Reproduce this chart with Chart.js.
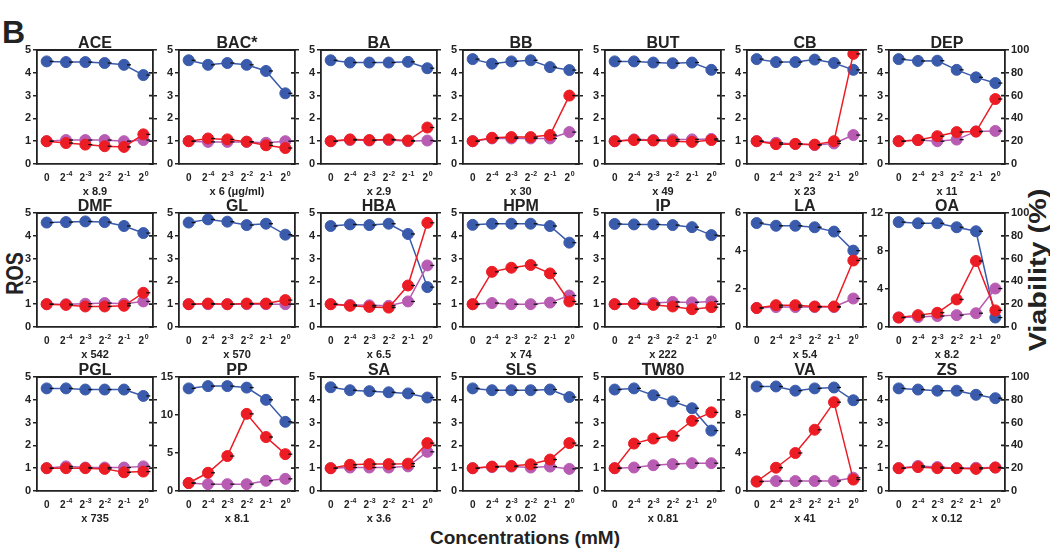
<!DOCTYPE html>
<html>
<head>
<meta charset="utf-8">
<script src="https://cdn.jsdelivr.net/npm/chart.js@4.4.1/dist/chart.umd.min.js"></script>
<style>
    body { margin: 0; background: #fff; }
    #page { position: relative; width: 1050px; height: 550px; overflow: hidden; font-family: "Liberation Sans", Arial, sans-serif; color: #222; }
    .panel { position: absolute; }
    .lbl { position: absolute; font-weight: bold; white-space: nowrap; color: #222; }
</style>
</head>
<body>
<div id="page">
    <div class="lbl" style="left:2px; top:14px; font-size:32px;">B</div>
    <div class="lbl" style="left:-20px; top:260px; font-size:23px; width:70px; text-align:center; transform:rotate(-90deg) scaleX(0.85);">ROS</div>
    <div class="lbl" style="left:968px; top:256px; font-size:24px; width:140px; text-align:center; transform:rotate(-90deg) scaleX(1.2);">Viability (%)</div>
    <div class="lbl" style="left:375px; top:527px; font-size:19px; width:300px; text-align:center;">Concentrations (mM)</div>
</div>
<script>
// x categories (mM, relative)
var labels = ['0', '2⁻⁴', '2⁻³', '2⁻²', '2⁻¹', '2⁰'];

var names = ['ACE', 'BAC*', 'BA', 'BB', 'BUT', 'CB', 'DEP',
    'DMF', 'GL', 'HBA', 'HPM', 'IP', 'LA', 'OA',
    'PGL', 'PP', 'SA', 'SLS', 'TW80', 'VA', 'ZS'];

var factors = ['x 8.9', 'x 6 (μg/ml)', 'x 2.9', 'x 30', 'x 49', 'x 23', 'x 11',
    'x 542', 'x 570', 'x 6.5', 'x 74', 'x 222', 'x 5.4', 'x 8.2',
    'x 735', 'x 8.1', 'x 3.6', 'x 0.02', 'x 0.81', 'x 41', 'x 0.12'];

// left axis (ROS) range per panel
var rosMax = [5, 5, 5, 5, 5, 5, 5,
    5, 5, 5, 5, 5, 6, 12,
    5, 15, 5, 5, 5, 12, 5];
var rosStep = [1, 1, 1, 1, 1, 1, 1,
    1, 1, 1, 1, 1, 2, 4,
    1, 5, 1, 1, 1, 4, 1];

// red series (ROS)
var rosRed = [
    [1, 0.92, 0.85, 0.78, 0.75, 1.3],
    [1, 1.12, 1.08, 0.98, 0.82, 0.7],
    [1, 1.08, 1.05, 1.08, 1.03, 1.6],
    [1, 1.15, 1.18, 1.18, 1.27, 3.0],
    [1, 1.05, 1.03, 1.0, 0.97, 1.05],
    [1, 0.87, 0.88, 0.85, 1.0, 4.83],
    [1, 1.05, 1.22, 1.4, 1.42, 2.85],
    [1, 0.97, 0.9, 0.9, 0.93, 1.5],
    [1, 1.03, 1.0, 1.03, 1.03, 1.18],
    [1, 0.93, 0.88, 0.85, 1.82, 4.57],
    [1, 2.42, 2.6, 2.72, 2.35, 1.12],
    [1, 1.02, 0.97, 0.9, 0.78, 0.87],
    [1, 1.15, 1.15, 1.08, 1.08, 3.5],
    [1, 1.25, 1.5, 2.9, 6.95, 1.75],
    [1, 1.0, 1.0, 0.97, 0.82, 0.85],
    [1.05, 2.4, 4.6, 10.15, 7.1, 4.85],
    [1, 1.15, 1.18, 1.18, 1.2, 2.1],
    [1, 1.07, 1.1, 1.17, 1.38, 2.1],
    [1, 2.08, 2.3, 2.42, 3.08, 3.45],
    [1, 2.45, 4.0, 6.45, 9.35, 1.2],
    [1, 1.05, 1.0, 1.0, 0.97, 1.03]
];

// purple series (ROS)
var rosPurple = [
    [1, 1.05, 1.05, 1.05, 1.0, 1.05],
    [1, 0.97, 0.97, 0.97, 0.93, 1.0],
    [1, 1.05, 1.03, 1.05, 1.0, 1.03],
    [1, 1.12, 1.12, 1.12, 1.12, 1.4],
    [1, 1.08, 1.05, 1.08, 1.08, 1.1],
    [1, 0.93, 0.88, 0.83, 0.9, 1.27],
    [1, 1.05, 1.0, 1.07, 1.43, 1.45],
    [1, 1.0, 1.02, 1.05, 1.02, 1.12],
    [1, 1, 1, 1, 1, 1],
    [1, 0.97, 0.95, 0.93, 1.12, 2.7],
    [1, 1.05, 1.0, 1.0, 1.07, 1.38],
    [1, 1.03, 1.05, 1.1, 1.08, 1.12],
    [1, 1.05, 1.05, 1.05, 1.05, 1.5],
    [1, 1.05, 1.15, 1.25, 1.45, 4.05],
    [1, 1.08, 1.03, 1.03, 1.03, 1.08],
    [1.05, 0.9, 0.9, 0.9, 1.35, 1.6],
    [1, 1.03, 1.03, 1.03, 1.08, 1.72],
    [1, 1.05, 1.07, 1.03, 1.07, 0.97],
    [1, 1.03, 1.13, 1.18, 1.22, 1.22],
    [1, 1.05, 1.05, 1.05, 1.05, 1.4],
    [1, 1.1, 1.05, 1.0, 1.02, 1.03]
];

// blue series (viability %, right axis)
var viability = [
    [90, 89.4, 89.4, 88.6, 87, 78],
    [91, 87, 88.6, 87, 81.6, 62],
    [91, 89, 89, 89, 89.6, 84],
    [92, 88, 90, 91, 85, 82.4],
    [90, 90, 89, 88.4, 89, 82.6],
    [92, 89.4, 89.4, 91.6, 88.6, 82.6],
    [92, 90.4, 90.6, 82.6, 76, 71],
    [91.6, 92, 92.6, 92, 88.6, 82.4],
    [91.6, 94.4, 92.4, 89.4, 90.6, 81],
    [88.6, 90, 89.4, 90.6, 81.6, 35],
    [89.6, 90.6, 90.6, 90.6, 88.6, 74],
    [90.4, 90, 90, 89.4, 87.6, 80.6],
    [91.2, 88.8, 88.8, 87.5, 83.7, 67],
    [92, 91, 91, 87.5, 84, 8.3],
    [90, 90, 89, 89, 89, 83.4],
    [90, 92, 92, 90.7, 80, 60.7],
    [91, 88.4, 87.6, 86.6, 85.6, 82],
    [90, 88.4, 88.4, 88.4, 89, 82.4],
    [89, 90, 84, 78.6, 72.6, 53],
    [91.7, 91.7, 88, 90, 90.8, 79.6],
    [90, 89, 88, 88, 84.4, 81.4]
];

var colLeft = [37, 179, 321, 463, 605, 747, 889];
var rowTop = [50, 213, 377];
var plotW = 116, plotH = 114, xAxisH = 36;

var RED = '#ec1c24', PURPLE = '#b85bb2', BLUE = '#3a5bab', INK = '#222';
var FONT = '"Liberation Sans", Arial, sans-serif';

var supMap = { '⁻': '-', '⁰': '0', '¹': '1', '²': '2', '³': '3', '⁴': '4' };

// top border, inner ticks on right axis, panel title, x labels with exponents
var framePlugin = {
    id: 'frame',
    afterDraw: function (chart) {
        var ctx = chart.ctx, a = chart.chartArea, y1 = chart.scales.y1, xs = chart.scales.x;
        ctx.save();
        ctx.strokeStyle = INK;
        ctx.lineWidth = 1.8;
        ctx.beginPath();
        ctx.moveTo(a.left - 1, a.top);
        ctx.lineTo(a.right + 1, a.top);
        y1.ticks.forEach(function (t) {
            var y = y1.getPixelForValue(t.value);
            ctx.moveTo(a.right - 4, y);
            ctx.lineTo(a.right, y);
        });
        ctx.stroke();

        ctx.fillStyle = INK;
        ctx.font = 'bold 16px ' + FONT;
        ctx.textAlign = 'center';
        ctx.textBaseline = 'alphabetic';
        ctx.fillText(chart.options.plugins.frame.title, (a.left + a.right) / 2, a.top - 2);

        // category labels: base + superscript
        labels.forEach(function (lab, k) {
            var x = xs.getPixelForValue(k);
            var base = lab.charAt(0);
            var exp = lab.slice(1).split('').map(function (ch) { return supMap[ch] || ch; }).join('');
            var yb = a.bottom + 17;
            ctx.font = 'bold 10px ' + FONT;
            var bw = ctx.measureText(base).width;
            ctx.font = 'bold 7px ' + FONT;
            var ew = exp ? ctx.measureText(exp).width : 0;
            var x0 = x - (bw + ew) / 2;
            ctx.textAlign = 'left';
            ctx.font = 'bold 10px ' + FONT;
            ctx.fillText(base, x0, yb);
            if (exp) {
                ctx.font = 'bold 7px ' + FONT;
                ctx.fillText(exp, x0 + bw + 0.5, yb - 5);
            }
        });
        ctx.restore();
    }
};

// little error-bar caps on the right of each point
var capPlugin = {
    id: 'caps',
    afterDatasetsDraw: function (chart) {
        var ctx = chart.ctx;
        ctx.save();
        ctx.strokeStyle = '#111';
        ctx.lineWidth = 1.3;
        chart.data.datasets.forEach(function (ds, di) {
            chart.getDatasetMeta(di).data.forEach(function (p) {
                ctx.beginPath();
                ctx.moveTo(p.x + 3, p.y);
                ctx.lineTo(p.x + 7, p.y);
                ctx.stroke();
            });
        });
        ctx.restore();
    }
};

function makePanel(i) {
    var r = Math.floor(i / 7), c = i % 7;
    var last = c == 6;
    var rightW = last ? 40 : 20;
    var W = 30 + plotW + rightW, H = 30 + plotH + xAxisH;

    var div = document.createElement('div');
    div.className = 'panel';
    div.style.left = (colLeft[c] - 30) + 'px';
    div.style.top = (rowTop[r] - 30) + 'px';
    var cv = document.createElement('canvas');
    cv.width = W;
    cv.height = H;
    div.appendChild(cv);
    document.getElementById('page').appendChild(div);

    var line = function (data, color, axis) {
        return {
            data: data,
            yAxisID: axis,
            borderColor: color,
            backgroundColor: color,
            borderWidth: 1.5,
            pointRadius: 5.5,
            pointBorderWidth: 1,
            pointBorderColor: color,
            tension: 0
        };
    };

    new Chart(cv, {
        type: 'line',
        data: {
            labels: labels,
            datasets: [
                line(rosRed[i], RED, 'y'),
                line(rosPurple[i], PURPLE, 'y'),
                line(viability[i], BLUE, 'y1')
            ]
        },
        options: {
            responsive: false,
            animation: false,
            layout: { padding: { top: 30, left: 0, right: 0, bottom: 0 } },
            plugins: {
                legend: { display: false },
                tooltip: { enabled: false },
                frame: { title: names[i] }
            },
            scales: {
                x: {
                    offset: true,
                    grid: { display: true, drawOnChartArea: false, drawTicks: false },
                    border: { color: INK, width: 1.8 },
                    ticks: { display: false },
                    title: { display: true, text: factors[i], color: INK, font: { family: FONT, size: 11, weight: 'bold' }, padding: { top: 0, bottom: 1 } },
                    afterFit: function (s) { s.height = xAxisH; }
                },
                y: {
                    position: 'left',
                    min: 0,
                    max: rosMax[i],
                    grid: { drawOnChartArea: false, tickLength: 4, color: INK, lineWidth: 1.5 },
                    border: { color: INK, width: 1.8 },
                    ticks: { stepSize: rosStep[i], color: INK, font: { family: FONT, size: 11, weight: 'bold' }, padding: 2 },
                    afterFit: function (s) { s.width = 30; }
                },
                y1: {
                    position: 'right',
                    min: 0,
                    max: 100,
                    grid: { drawOnChartArea: false, tickLength: 4, color: INK, lineWidth: 1.5 },
                    border: { color: INK, width: 1.8 },
                    ticks: { display: last, stepSize: 20, color: INK, font: { family: FONT, size: 11, weight: 'bold' }, padding: 2 },
                    afterFit: function (s) { s.width = rightW; }
                }
            }
        },
        plugins: [framePlugin, capPlugin]
    });
}

for (var i = 0; i < names.length; i++) {
    makePanel(i);
}
</script>
</body>
</html>
